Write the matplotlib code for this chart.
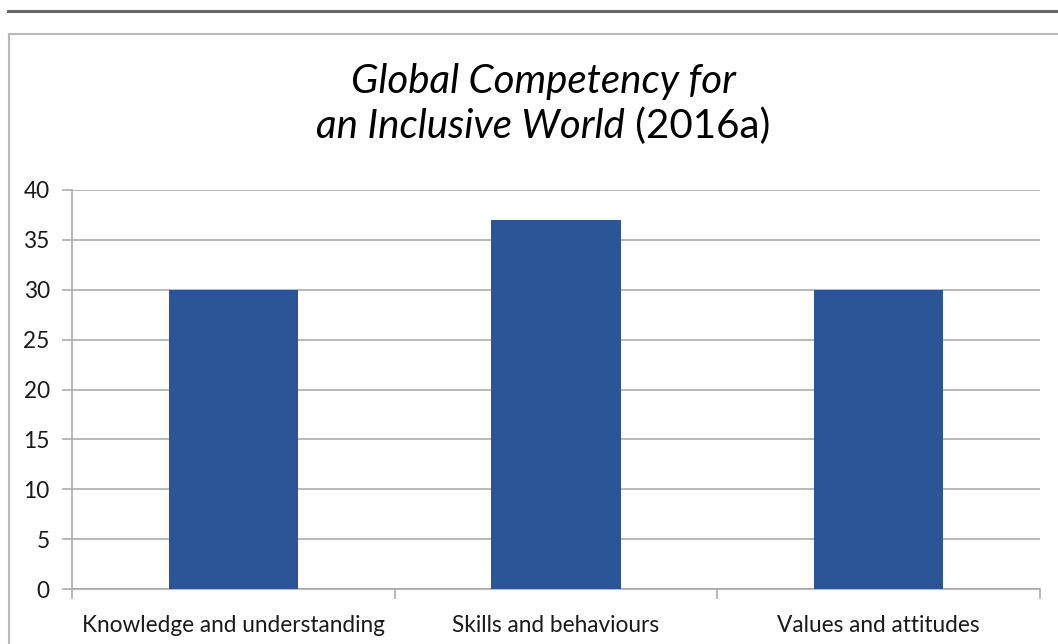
import matplotlib.pyplot as plt
from matplotlib.lines import Line2D
import numpy as np

categories = ['Knowledge and understanding', 'Skills and behaviours', 'Values and attitudes']
values = [30, 37, 30]
yticks = [0, 5, 10, 15, 20, 25, 30, 35, 40]

plt.rcParams['font.family'] = ['Lato', 'DejaVu Sans']

W, H = 1058, 644
fig = plt.figure(figsize=(W / 100, H / 100), dpi=100)

# page rule and chart frame
fig.add_artist(Line2D([8 / W, 1], [1 - 11 / H, 1 - 11 / H], color='#666666', lw=2.2))
fig.add_artist(Line2D([9 / W, 1], [1 - 34 / H, 1 - 34 / H], color='#b8b8b8', lw=1.5))
fig.add_artist(Line2D([9 / W, 9 / W], [0, 1 - 34 / H], color='#b8b8b8', lw=1.5))

ax = fig.add_axes([72 / W, 55 / H, (1040 - 72) / W, (589 - 190) / H])

x = np.arange(len(categories))
ax.bar(x, values, width=0.4, color='#2b5597', zorder=3)

ax.set_xlim(-0.5, 2.5)
ax.set_ylim(0, 40)
ax.set_yticks(yticks)
ax.yaxis.grid(True, color='#a6a6a6', lw=1.1)
ax.set_axisbelow(True)

ax.set_xticks(x)
ax.set_xticklabels(categories)
ax.set_xticks([-0.5, 0.5, 1.5, 2.5], minor=True)
ax.tick_params(axis='x', which='major', length=0, pad=19, labelsize=16.3, labelcolor='#1a1a1a')
ax.tick_params(axis='x', which='minor', length=7, width=1.1, color='#a6a6a6', direction='out')
ax.tick_params(axis='y', length=7, width=1.1, color='#a6a6a6', pad=9, labelsize=16.3, labelcolor='#1a1a1a')

for s in ['top', 'right']:
    ax.spines[s].set_visible(False)
for s in ['left', 'bottom']:
    ax.spines[s].set_color('#a6a6a6')
    ax.spines[s].set_linewidth(1.1)

# title: italic with the year in upright type
cx = 543 / W
fig.text(cx, 1 - 93 / H, 'Global Competency for', ha='center', va='baseline',
         fontsize=29, style='italic')
fig.canvas.draw()
r = fig.canvas.get_renderer()
t1 = fig.text(0, 1 - 138 / H, 'an Inclusive World', ha='left', va='baseline',
              fontsize=29, style='italic')
t2 = fig.text(0, 1 - 138 / H, ' (2016a)', ha='left', va='baseline', fontsize=29)
w1 = t1.get_window_extent(r).width
w2 = t2.get_window_extent(r).width
start = cx * W - (w1 + w2) / 2
t1.set_x(start / W)
t2.set_x((start + w1) / W)

fig.savefig('out.png', dpi=100)
